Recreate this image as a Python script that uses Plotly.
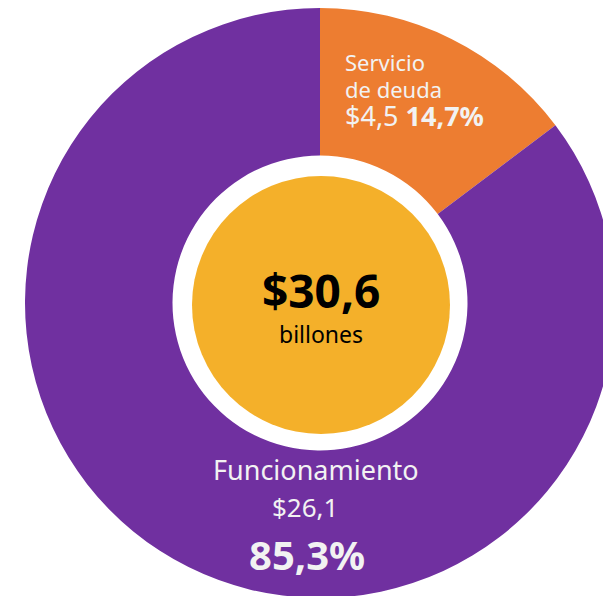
import plotly.graph_objects as go

# Data
categories = ["Servicio de deuda", "Funcionamiento"]
label_lines = ["Servicio", "de deuda"]
values = [4.5, 26.1]
value_labels = ["$4,5", "$26,1"]
pct_labels = ["14,7%", "85,3%"]
total_value = [30.6]
total_label = "$30,6"
total_unit = "billones"
colors = ["#ED7D31", "#7030A0"]
center_color = "#F4B02A"

W, H = 630, 600
FONT = "Noto Sans"
TXT = "#F2F2F2"


def px(x):
    return x / W


def py(y):
    return 1 - y / H


# Outer donut: center (320, 303), radius 295
cx, cy, R = 320, 303, 295
fig = go.Figure()
fig.add_trace(go.Pie(
    labels=categories,
    values=values,
    hole=0.5,
    sort=False,
    direction="clockwise",
    rotation=0,
    marker=dict(colors=colors, line=dict(width=0)),
    textinfo="none",
    hoverinfo="label+value",
    showlegend=False,
    domain=dict(x=[px(cx - R), px(cx + R)], y=[py(cy + R), py(cy - R)]),
))

# Center gold disc
gx, gy, gr = 321, 305, 129
fig.add_trace(go.Pie(
    labels=["Total"],
    values=total_value,
    marker=dict(colors=[center_color], line=dict(width=0)),
    textinfo="none",
    hoverinfo="skip",
    showlegend=False,
    sort=False,
    domain=dict(x=[px(gx - gr), px(gx + gr)], y=[py(gy + gr), py(gy - gr)]),
))

anns = []


def add(text, x, y, size, color=TXT, xanchor="center", bold=False, align="center"):
    t = f"<b>{text}</b>" if bold else text
    anns.append(dict(text=t, x=px(x), y=py(y), xref="paper", yref="paper",
                     xanchor=xanchor, yanchor="middle", showarrow=False, align=align,
                     font=dict(family=FONT, size=size, color=color)))


# Servicio de deuda label (one multi-line block, tight leading)
svc_text = (
    f"<span style='font-size:22px'>{label_lines[0]}</span><br>"
    f"<span style='font-size:22px'>{label_lines[1]}</span><br>"
    f"<span style='font-size:27px'>{value_labels[0]} <b>{pct_labels[0]}</b></span>"
)
add(svc_text, 343, 91, 21, xanchor="left", align="left")

# Center
add(total_label, 321, 290, 46, color="#000000", bold=True)
add(total_unit, 321, 334, 23, color="#000000")

# Funcionamiento label
add(categories[1], 316, 469, 27)
add(value_labels[1], 305, 507, 26)
add(pct_labels[1], 307, 554, 40, bold=True)

fig.update_layout(
    width=W, height=H,
    margin=dict(l=0, r=0, t=0, b=0),
    paper_bgcolor="white",
    plot_bgcolor="white",
    annotations=anns,
    showlegend=False,
)

fig.write_html(
    "out.html",
    config={"displayModeBar": False},
    post_script="document.body.style.margin='0';document.body.style.overflow='hidden';",
)
